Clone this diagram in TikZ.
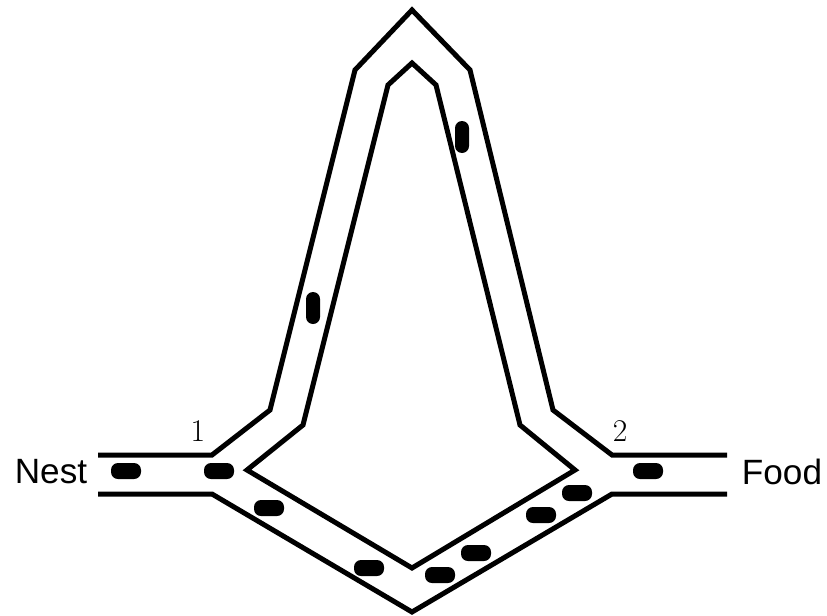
\documentclass[tikz,border=0pt]{standalone}
\usepackage{fontspec}
\setsansfont{Liberation Sans}
\usepackage{tikz}

\begin{document}
\begin{tikzpicture}[x=0.02cm, y=-0.02cm,
                wall/.style={line width=0.1cm, line join=miter},
                ant/.style={fill=black, rounded corners=0.14cm},
                place/.style={font=\sffamily\fontsize{20}{24}\selectfont, inner sep=0pt},
                num/.style={font=\rmfamily\fontsize{18}{21}\selectfont, inner sep=0pt}
            ]
                \useasboundingbox (0,0) rectangle (827,615);

                % long branch over the top
                \draw[wall] (98,455) -- (212,455) -- (270,410) -- (355,70) -- (412,10)
                    -- (470,70) -- (553,410) -- (612,455) -- (727,455);
                % short branch underneath
                \draw[wall] (98,494) -- (212,494) -- (412,612) -- (612,494) -- (727,494);
                % island between the two branches
                \draw[wall] (303,425) -- (388,85) -- (412,63) -- (436,85) -- (520,425)
                    -- (575,470) -- (412,568) -- (247,470) -- cycle;

                % ants
                \foreach \ax/\ay in {126/471, 219/471, 269/508, 369/568, 440/575,
                                     476/553, 541/515, 577/493, 648/471}
                    \fill[ant] (\ax-15,\ay-8) rectangle (\ax+15,\ay+8);
                \foreach \ax/\ay in {313/308, 462/137}
                    \fill[ant] (\ax-7,\ay-16) rectangle (\ax+7,\ay+16);

                \node[place] (nest) at (51,472) {Nest};
                \node[place] (food) at (782,472) {Food};
                \node[num] (one) at (198,431) {1};
                \node[num] (two) at (620,431) {2};
            \end{tikzpicture}
\end{document}
